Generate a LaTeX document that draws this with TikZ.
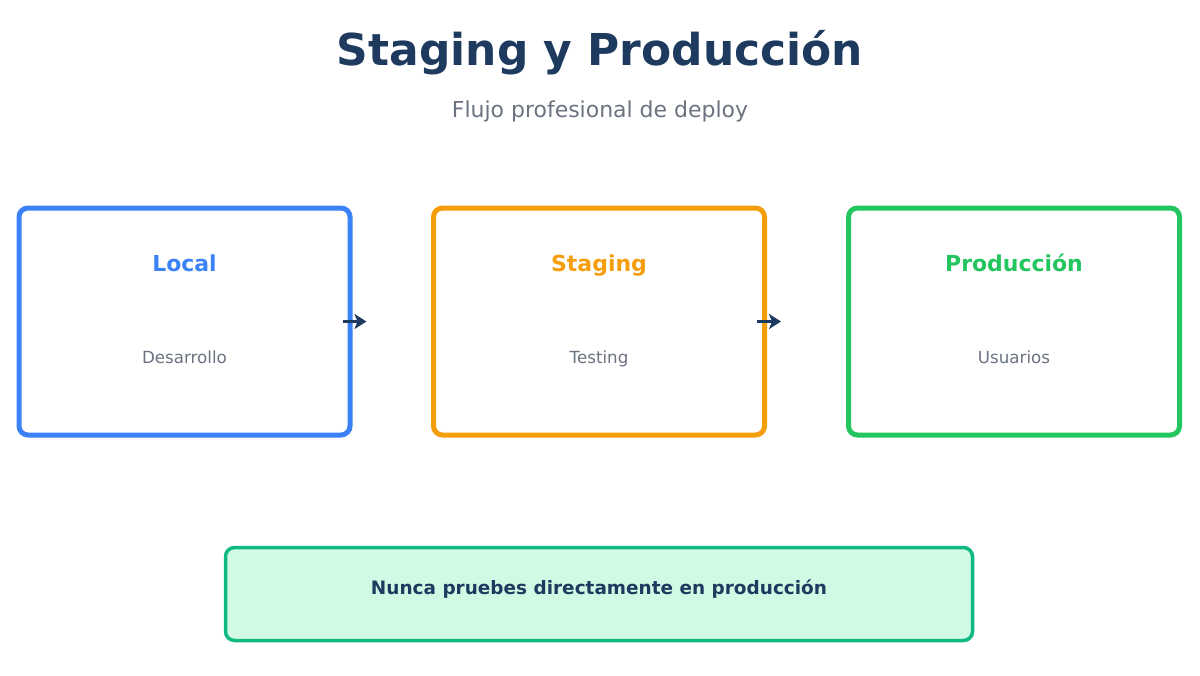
\documentclass[tikz,border=0pt]{standalone}
\usepackage{fontspec}
\setmainfont{DejaVu Sans}
\usepackage{xcolor}
\definecolor{mynavy}        {RGB}{30, 58, 95}
\definecolor{mygray}        {RGB}{107, 114, 128}
\definecolor{myb}           {RGB}{59, 130, 246}
\definecolor{myo}           {RGB}{245, 158, 11}
\definecolor{myg}           {RGB}{34, 197, 94}
\definecolor{mytealfill}    {RGB}{209, 250, 229}
\definecolor{myteal}        {RGB}{16, 185, 129}
\usetikzlibrary{arrows.meta, positioning}

\begin{document}
\begin{tikzpicture}[every node/.style={align=center},
		stagebox/.style={draw, line width=0.1cm, rounded corners=0.18cm, minimum width=6.62cm, minimum height=4.54cm},
		stagehead/.style={font=\fontsize{12.5}{15}\selectfont\bfseries, anchor=base},
		stagesub/.style={font=\fontsize{9.5}{12}\selectfont, text=mygray, anchor=base},
		flow/.style={draw=mynavy, line width=0.075cm, -{Stealth[length=0.24cm, width=0.3cm, inset=0.06cm]}}]
		\useasboundingbox (0,0) rectangle (24,-13.5);
		\node[font=\fontsize{25}{30}\selectfont\bfseries, text=mynavy] (title) at (12,-1.06) {Staging y Producción};
		\node[font=\fontsize{12.5}{15}\selectfont, text=mygray] (subtitle) at (12,-2.22) {Flujo profesional de deploy};
		\node[stagebox, draw=myb] (local) at (3.69,-6.43) {};
		\node[stagebox, draw=myo] (staging) at (11.98,-6.43) {};
		\node[stagebox, draw=myg] (prod) at (20.28,-6.43) {};
		\node[stagehead, text=myb] (localhead) at ([yshift=-1.31cm]local.north) {Local};
		\node[stagehead, text=myo] (staginghead) at ([yshift=-1.31cm]staging.north) {Staging};
		\node[stagehead, text=myg] (prodhead) at ([yshift=-1.31cm]prod.north) {Producción};
		\node[stagesub] (localsub) at ([yshift=-0.83cm]local.center) {Desarrollo};
		\node[stagesub] (stagingsub) at ([yshift=-0.83cm]staging.center) {Testing};
		\node[stagesub] (prodsub) at ([yshift=-0.83cm]prod.center) {Usuarios};
		\coordinate (tip1) at ([xshift=0.28cm]local.east);
		\coordinate (tip2) at ([xshift=0.28cm]staging.east);
		\draw[flow, shorten <=-0.2cm] (local.east) -- (tip1);
		\draw[flow, shorten <=-0.2cm] (staging.east) -- (tip2);
		\node[draw=myteal, fill=mytealfill, line width=0.07cm, rounded corners=0.18cm, minimum width=14.94cm, minimum height=1.86cm] (warning) at (11.98,-11.88) {};
		\node[font=\fontsize{10.5}{13}\selectfont\bfseries, text=mynavy] (warningtext) at ([yshift=0.1cm]warning.center) {Nunca pruebes directamente en producción};
	\end{tikzpicture}
\end{document}
